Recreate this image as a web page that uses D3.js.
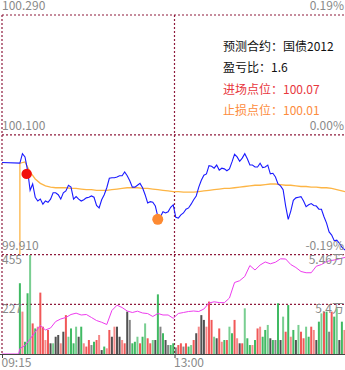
<!DOCTYPE html>
<html><head><meta charset="utf-8">
<script src="https://cdn.jsdelivr.net/npm/d3@7"></script>
<style>
html,body{margin:0;padding:0;background:#fff;overflow:hidden;}
svg{display:block;}
text{font-family:"Noto Sans CJK SC","Noto Sans",sans-serif;}
</style></head><body>
<svg id="c" width="345" height="370"></svg>
<script>
// ---------- data ----------
const timeLabels = ["09:15", "13:00"];
const timeTickMinutes = [0, 135];
const totalMinutes = 270;
const priceTicks = [100.290, 100.100, 99.910];
const pctTicks = ["0.19%", "0.00%", "-0.19%"];
const volTicks = [455, 227];
const oiTicks = ["5.46万", "5.4万"];
const legendLabels = ["预测合约：国债2012", "盈亏比：1.6", "进场点位：100.07", "止损点位：100.01"];

const preClose = 100.056;
const openMinute = 14;
const priceStep = 2;
const prices = [
  100.055,100.070,100.065,100.044,100.012,100.022,100.001,99.995,99.998,99.990,99.995,99.993,
  99.998,100.008,100.008,100.005,99.998,100.008,100.011,100.020,100.017,99.998,100.002,99.998,
  99.995,99.997,100.000,100.001,100.003,100.001,99.988,99.984,99.997,100.005,100.016,100.031,
  100.032,100.032,100.033,100.035,100.035,100.041,100.035,100.027,100.017,100.017,100.020,100.023,
  100.016,100.005,99.992,99.994,99.993,99.987,99.970,99.970,99.978,99.976,99.978,99.985,
  99.989,99.969,99.968,99.973,99.976,99.982,99.984,99.990,99.997,100.003,100.017,100.028,
  100.036,100.038,100.051,100.050,100.047,100.052,100.044,100.047,100.046,100.043,100.046,100.057,
  100.069,100.065,100.058,100.063,100.070,100.062,100.052,100.052,100.049,100.049,100.055,100.048,
  100.049,100.052,100.038,100.039,100.033,100.022,100.019,100.013,99.987,99.966,99.979,99.996,
  100.000,100.001,100.002,99.995,99.986,99.989,99.991,99.988,99.987,99.982,99.982,99.970,
  99.960,99.946,99.941,99.932,99.933,99.928,99.922,99.918,99.916
];

const avgStep = 4;
const avgOpen = 99.90;
const avgPrices = [
  100.055,100.057,100.041,100.030,100.023,100.019,100.017,100.016,100.016,100.016,
  100.015,100.015,100.014,100.013,100.013,100.012,100.012,100.012,100.013,100.014,
  100.015,100.016,100.016,100.016,100.015,100.015,100.014,100.013,100.012,100.011,
  100.010,100.010,100.009,100.009,100.009,100.010,100.011,100.012,100.013,100.014,
  100.015,100.015,100.016,100.017,100.018,100.019,100.020,100.020,100.021,100.022,
  100.022,100.021,100.020,100.020,100.019,100.018,100.018,100.017,100.017,100.016,
  100.016,100.015,100.013,100.011,100.009
];

const oiBase = 53400;
const oiMax = 54600;
const oiStep = 4;
const openInterest = [
  53466,53503,53581,53666,53744,53690,53714,53792,53823,53841,
  53877,53893,53871,53877,53841,53804,53783,53756,53925,53989,
  53961,53919,53901,53917,53895,53888,53853,53889,53871,53871,
  53831,53889,53901,53913,53919,53913,53943,54016,54030,54021,
  54019,54076,54263,54285,54336,54468,54414,54474,54511,54489,
  54508,54549,54547,54480,54444,54396,54381,54381,54460,54480,
  54517,54529,54541,54557,54571
];

const volStep = 2;
const volumes = [
  324,194,56,278,453,140,117,125,281,125,64,110,
  49,49,79,87,49,102,178,79,117,49,125,79,
  125,49,34,64,41,56,64,87,18,34,26,110,
  79,125,125,79,64,49,194,156,49,56,79,49,
  79,140,72,49,64,64,273,125,95,64,41,41,
  49,30,41,49,34,49,34,41,64,95,125,178,
  156,125,240,156,79,72,117,56,64,64,125,95,
  156,72,49,49,209,72,41,41,64,117,125,79,
  110,133,72,64,64,232,64,171,102,224,79,110,
  64,133,102,72,125,79,125,110,64,148,186,194,
  194,102,194,171,209,64,148,110
];
const volColors = "grgggrgrrrrr" + "kgkkrkrggggk" + "grrrkgrrkgrr" + "krkkrrkkgggr" +
  "ggrrgkgkgkkg" + "gkrrkrggrkrk" + "krrrgkrrgrgg" + "rrkrgggrgrrg" +
  "ggkgkgkgrgrg" + "kgrrggrrkggr" + "gkrggkgr";

const entryPoint = {minute: 19.3, price: 100.038};
const stopPoint = {minute: 121.9, price: 99.966};

// ---------- layout ----------
const W = 345, H = 370;
const left = 2, right = 347;
const priceTop = 15, priceBottom = 254.6, volBottom = 354;
const gray = "#8a8a8a", gridColor = "#8e1a3c";

const svg = d3.select("#c");
const x = d3.scaleLinear().domain([0, totalMinutes]).range([left, right]);
const yP = d3.scaleLinear().domain([priceTicks[2], priceTicks[0]]).range([priceBottom, priceTop]);
const yV = d3.scaleLinear().domain([0, volTicks[0]]).range([volBottom, priceBottom]);
const yOI = d3.scaleLinear().domain([oiBase, oiMax]).range([volBottom, priceBottom]);

svg.append("defs").append("clipPath").attr("id", "pclip")
  .append("rect").attr("x", 0).attr("y", priceTop).attr("width", W).attr("height", priceBottom - priceTop);

// grid
const hLines = [yP(priceTicks[0]), yP(priceTicks[1]), yP(priceTicks[2]), yV(volTicks[1])];
svg.append("g").selectAll("line").data(hLines).join("line")
  .attr("x1", left).attr("x2", W).attr("y1", d => d).attr("y2", d => d)
  .attr("stroke", gridColor).attr("stroke-width", 1.2).attr("stroke-dasharray", "2,2");
svg.append("g").selectAll("line").data(timeTickMinutes).join("line")
  .attr("x1", d => x(d)).attr("x2", d => x(d)).attr("y1", priceTop).attr("y2", volBottom)
  .attr("stroke", gridColor).attr("stroke-width", 1.2).attr("stroke-dasharray", "2,2");

// volume bars
const colorMap = {r: "#ef3b3b", g: "#1fae48", k: "#333333"};
svg.append("g").selectAll("rect").data(volumes).join("rect")
  .attr("x", (d, i) => x(openMinute + i * volStep) - 1)
  .attr("width", 2)
  .attr("y", d => yV(d))
  .attr("height", d => volBottom - yV(d))
  .attr("fill", (d, i) => colorMap[volColors[i]])
  .attr("opacity", (d, i) => i % 3 === 1 ? 0.6 : 0.85);

// open interest
const oiPts = [[0, oiBase], [openMinute - 1, oiBase]].concat(openInterest.map((v, i) => [openMinute + i * oiStep, v]));
svg.append("path").datum(oiPts)
  .attr("d", d3.line().x(d => x(d[0])).y(d => yOI(d[1])))
  .attr("fill", "none").attr("stroke", "#ee3cee").attr("stroke-width", 1);

// avg price
const avgPts = [[openMinute, avgOpen]].concat(avgPrices.map((v, i) => [openMinute + i * avgStep, v]));
svg.append("path").datum(avgPts).attr("clip-path", "url(#pclip)")
  .attr("d", d3.line().x(d => x(d[0])).y(d => yP(d[1])))
  .attr("fill", "none").attr("stroke", "#fdb545").attr("stroke-width", 1.3);

// price
const pPts = [[0, preClose]].concat(prices.map((v, i) => [openMinute + i * priceStep, v]));
svg.append("path").datum(pPts).attr("clip-path", "url(#pclip)")
  .attr("d", d3.line().x(d => x(d[0])).y(d => yP(d[1])))
  .attr("fill", "none").attr("stroke", "#1a1aff").attr("stroke-width", 1.1);

// points
svg.append("circle").attr("cx", x(entryPoint.minute)).attr("cy", yP(entryPoint.price)).attr("r", 5.2).attr("fill", "#f20d0d");
svg.append("circle").attr("cx", x(stopPoint.minute)).attr("cy", yP(stopPoint.price)).attr("r", 5.5).attr("fill", "#fd8a32");

// x axis
const ax = svg.append("g").attr("transform", `translate(0,${volBottom})`)
  .call(d3.axisBottom(x).tickValues(timeTickMinutes).tickSize(4).tickSizeOuter(0)
    .tickFormat((d, i) => timeLabels[i]));
ax.select(".domain").attr("stroke", "#444").attr("d", `M0,0.5H${W}`);
ax.selectAll(".tick line").attr("stroke", "#444");
ax.selectAll(".tick text").attr("text-anchor", "start").attr("dx", -1).attr("y", 4.5)
  .attr("fill", gray).attr("font-size", 12).attr("font-family", '"Noto Sans","Noto Sans CJK SC",sans-serif');

// axis labels
const lab = svg.append("g").attr("font-size", 12).attr("fill", gray).attr("font-family", '"Noto Sans",sans-serif');
priceTicks.forEach((p, i) => {
  lab.append("text").attr("x", left).attr("y", yP(p) - 5).text(p.toFixed(3));
  lab.append("text").attr("x", W - 1).attr("y", yP(p) - 5).attr("text-anchor", "end").text(pctTicks[i]);
});
volTicks.forEach((v, i) => {
  lab.append("text").attr("x", left).attr("y", yV(v) + 9).text(v);
  lab.append("text").attr("x", W - 1).attr("y", yV(v) + 9).attr("text-anchor", "end")
    .attr("font-family", '"Noto Sans CJK SC",sans-serif').text(oiTicks[i]);
});

// legend
const legColors = ["#111", "#111", "#e8373d", "#fd8c3c"];
svg.append("g").selectAll("text").data(legendLabels).join("text")
  .attr("x", 223).attr("y", (d, i) => 51 + i * 21.3)
  .attr("font-size", 12).attr("fill", (d, i) => legColors[i]).text(d => d);
</script>
</body></html>
